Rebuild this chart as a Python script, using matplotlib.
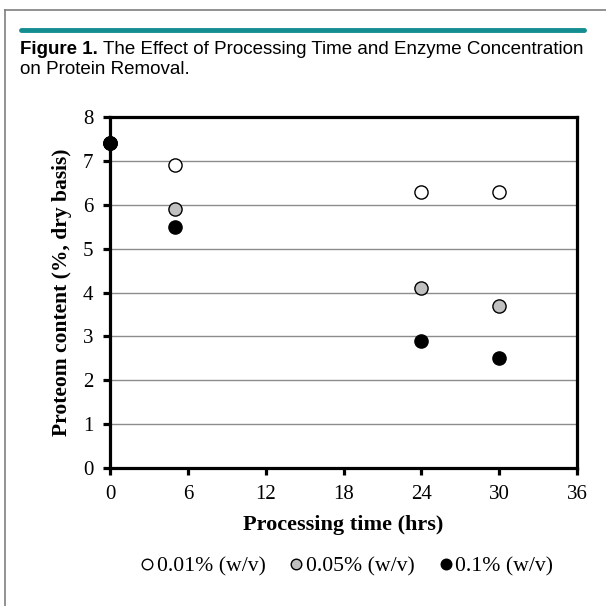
import matplotlib.pyplot as plt
from matplotlib.lines import Line2D

# Data
time_hrs = [0, 5, 24, 30]
conc_001 = [7.4, 6.9, 6.3, 6.3]
conc_005 = [7.4, 5.9, 4.1, 3.7]
conc_01 = [7.4, 5.5, 2.9, 2.5]
series_labels = ['0.01% (w/v)', '0.05% (w/v)', '0.1% (w/v)']
series_colors = ['white', '#c0c0c0', 'black']

fig = plt.figure(figsize=(6.06, 6.06), dpi=100)

# outer frame (left and top edges only visible)
fig.add_artist(Line2D([5/606, 5/606], [0, 1 - 10/606], transform=fig.transFigure, color='#7f7f7f', lw=1.2))
fig.add_artist(Line2D([5/606, 1], [1 - 10/606, 1 - 10/606], transform=fig.transFigure, color='#7f7f7f', lw=1.2))
# teal header bar
fig.add_artist(Line2D([21/606, 584/606], [1 - 30/606, 1 - 30/606], transform=fig.transFigure,
                      color='#138d90', lw=3.5, solid_capstyle='round'))

# caption
fs_cap = 13.5
fig.text(20/606, 1 - 50/606, 'Figure 1.', fontsize=fs_cap, family='Liberation Sans',
         fontweight='bold', va='center')
fig.text(103/606, 1 - 50/606, 'The Effect of Processing Time and Enzyme Concentration',
         fontsize=fs_cap, family='Liberation Sans', va='center')
fig.text(20/606, 1 - 69/606, 'on Protein Removal.', fontsize=fs_cap, family='Liberation Sans', va='center')

ax = fig.add_axes([110/606, 1 - 468/606, 467/606, 351/606])
for ys, c, lab in zip([conc_001, conc_005, conc_01], series_colors, series_labels):
    ax.plot(time_hrs, ys, 'o', color=c, mec='black', mew=1.0, ms=9.5, label=lab,
            clip_on=False, zorder=3)

ax.set_xlim(0, 36)
ax.set_ylim(0, 8)
ax.set_xticks(range(0, 37, 6))
ax.set_yticks(range(0, 9))
ax.yaxis.grid(True, color='#8c8c8c', lw=1.0)
ax.set_axisbelow(True)
for sp in ax.spines.values():
    sp.set_linewidth(2.3)
ax.tick_params(direction='out', length=5, width=2.3, labelsize=15, pad=7)
for lab in ax.get_xticklabels() + ax.get_yticklabels():
    lab.set_family('Liberation Serif')
ax.set_xlabel('Processing time (hrs)', family='Liberation Serif', fontweight='bold',
              fontsize=16, labelpad=8)
ax.set_ylabel('Proteom content (%, dry basis)', family='Liberation Serif', fontweight='bold',
              fontsize=15.5, labelpad=8)

fig.legend(loc='center', bbox_to_anchor=(347/606, 1 - 566/606), ncol=3, frameon=False,
           prop={'family': 'Liberation Serif', 'size': 15.7}, handletextpad=0.15,
           columnspacing=1.1, handlelength=0.6, markerscale=0.8)

fig.savefig('out.png', dpi=100)
